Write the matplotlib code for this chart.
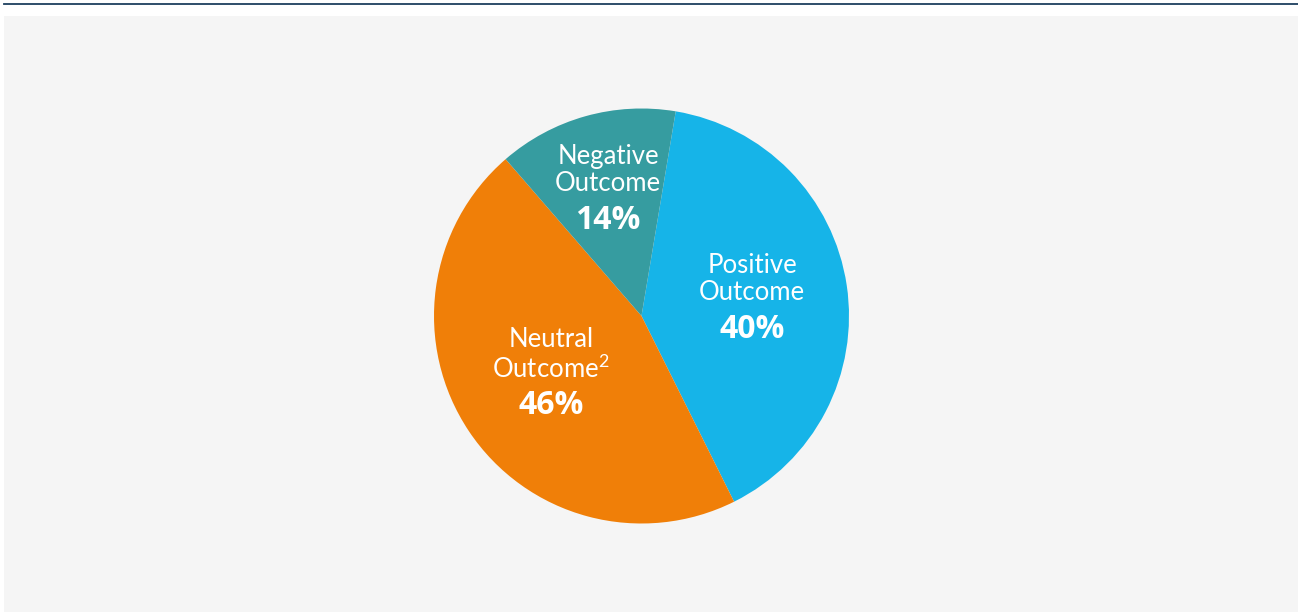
import matplotlib.pyplot as plt
from matplotlib.patches import Rectangle

labels = ["Positive\nOutcome", "Neutral\nOutcome$^2$", "Negative\nOutcome"]
shares = [40, 46, 14]
colors = ["#16b4e8", "#f07f08", "#369ca0"]

plt.rcParams['font.family'] = ['Lato', 'DejaVu Sans']
plt.rcParams['mathtext.fontset'] = 'custom'
plt.rcParams['mathtext.rm'] = 'Lato'

W, H = 1298, 612
fig = plt.figure(figsize=(W / 100, H / 100), dpi=100)
fig.patch.set_facecolor("white")

# grey panel and thin rule on top
fig.patches.append(Rectangle((4 / W, 0), 1 - 4 / W, 1 - 16 / H,
                             transform=fig.transFigure, facecolor="#f5f5f5",
                             edgecolor="none", zorder=-5))
fig.add_artist(plt.Line2D([4 / W, 1], [1 - 3.5 / H, 1 - 3.5 / H],
                          transform=fig.transFigure, color="#1c3f5e", lw=1.3))

cx, cy, r = 641.5, 316, 207.5
ax = fig.add_axes([(cx - r) / W, 1 - (cy + r) / H, 2 * r / W, 2 * r / H])
ax.set_zorder(1)
ax.set_facecolor("none")
wedges, _ = ax.pie(shares, colors=colors, startangle=80.5, counterclock=False,
                   radius=1, wedgeprops=dict(linewidth=0))
ax.set_xlim(-1, 1)
ax.set_ylim(-1, 1)
ax.set_aspect("equal")
ax.axis("off")

# label positions in pixels: (x, y of name, y of percent)
spots = [(752, 279, 330), (551, 355, 406), (608, 170, 220)]
for lab, val, (x, y1, y2) in zip(labels, shares, spots):
    fig.text(x / W, 1 - y1 / H, lab, ha="center", va="center", color="white",
             fontsize=18.5, linespacing=1.13, zorder=5)
    fig.text(x / W, 1 - y2 / H, f"{val}%", ha="center", va="center",
             color="white", fontsize=23, fontweight="bold",
             family=["Open Sans", "DejaVu Sans"], zorder=5)

fig.savefig("out.png", dpi=100, facecolor=fig.get_facecolor())
